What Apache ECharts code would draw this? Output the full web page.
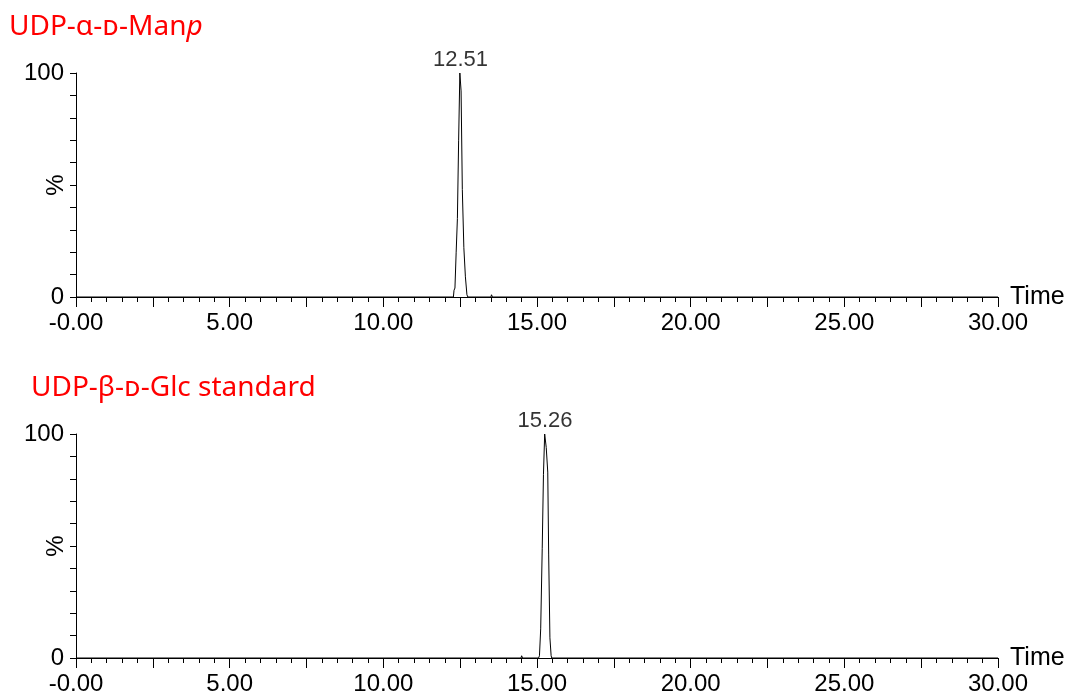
<!DOCTYPE html>
<html>
<head>
<meta charset="utf-8">
<script src="https://cdn.jsdelivr.net/npm/echarts@6/dist/echarts.min.js"></script>
<style>
  html, body { margin: 0; padding: 0; background: #fff; }
  #chart { width: 1071px; height: 698px; }
</style>
</head>
<body>
<div id="chart"></div>
<script>
// UDP-a-D-Manp trace (time in min, % intensity)
const manpTime = [0, 12.28, 12.30, 12.31, 12.33, 12.37, 12.41, 12.45, 12.49, 12.51, 12.53, 12.57, 12.62, 12.67, 12.72, 12.75, 13.50, 13.52, 13.55, 30];
const manpPct  = [0, 0,     3,     3,     4,     20,    35,    70,    100,   100,   92,    48,    22,    9,     1,     0,     0,     1,     0,     0];
// UDP-b-D-Glc standard trace
const glcTime = [0, 14.48, 14.50, 14.53, 15.05, 15.08, 15.12, 15.17, 15.21, 15.25, 15.27, 15.30, 15.35, 15.38, 15.42, 15.46, 15.48, 30];
const glcPct  = [0, 0,     1,     0,     0,     1,     13,    49,    82,    100,   100,   94,    83,    46,    9,     1,     0,     0];

const peakTimes = [12.51, 15.26];
const xLabels = ['-0.00', '5.00', '10.00', '15.00', '20.00', '25.00', '30.00'];
const yLabels = ['0', '100'];

let myChart = echarts.init(document.getElementById('chart'))

const axisFont = 'Liberation Sans, Arial, sans-serif'
const titleFont = 'Noto Sans, Open Sans, DejaVu Sans, sans-serif'

function xAxisFor (idx) {
  return {
    gridIndex: idx,
    type: 'value',
    min: 0,
    max: 30,
    interval: 2.5,
    name: 'Time',
    nameLocation: 'end',
    nameGap: 12,
    nameTextStyle: { color: '#000', fontSize: 25, fontFamily: axisFont, padding: [4, 0, 0, 0] },
    axisLine: { lineStyle: { color: '#000', width: 1 } },
    axisTick: { length: 10, lineStyle: { color: '#000' } },
    minorTick: { show: true, splitNumber: 5, length: 5, lineStyle: { color: '#000' } },
    splitLine: { show: false },
    axisLabel: {
      color: '#000', fontSize: 24, fontFamily: axisFont, margin: 14,
      showMinLabel: true, showMaxLabel: true,
      formatter: function (v) {
        let k = Math.round(v / 5)
        return Math.abs(v - k * 5) < 1e-6 ? xLabels[k] : ''
      }
    }
  }
}

function yAxisFor (idx) {
  return {
    gridIndex: idx,
    type: 'value',
    min: 0,
    max: 100,
    interval: 10,
    name: '%',
    nameLocation: 'middle',
    nameGap: 8,
    nameRotate: 90,
    nameMoveOverlap: false,
    nameTextStyle: { color: '#000', fontSize: 24, fontFamily: axisFont },
    axisLine: { show: true, lineStyle: { color: '#000', width: 1 } },
    axisTick: { show: true, length: 6, lineStyle: { color: '#000' } },
    splitLine: { show: false },
    axisLabel: {
      color: '#000', fontSize: 24, fontFamily: axisFont, margin: 12,
      formatter: function (v) {
        if (v === 0) return yLabels[0]
        if (v === 100) return yLabels[1]
        return ''
      }
    }
  }
}

function zip (a, b) {
  return a.map((t, i) => [t, b[i]])
}

const traces = [zip(manpTime, manpPct), zip(glcTime, glcPct)]

let series = []
traces.forEach((d, i) => {
  series.push({
    type: 'line',
    xAxisIndex: i,
    yAxisIndex: i,
    data: d,
    showSymbol: false,
    symbol: 'none',
    lineStyle: { color: '#000', width: 1 },
    animation: false
  })
  series.push({
    type: 'scatter',
    xAxisIndex: i,
    yAxisIndex: i,
    symbolSize: 0,
    data: [[peakTimes[i], 100]],
    label: {
      show: true,
      position: 'top',
      distance: 2,
      color: '#000',
      fontSize: 22,
      fontFamily: axisFont,
      formatter: p => p.value[0].toFixed(2)
    },
    animation: false
  })
})

const richTitle = {
  a: { color: '#ff0000', fontSize: 28, fontWeight: 'normal', fontFamily: titleFont },
  i: { color: '#ff0000', fontSize: 28, fontWeight: 'normal', fontFamily: titleFont, fontStyle: 'italic' }
}

let option = {
  backgroundColor: '#fff',
  animation: false,
  title: [
    {
      text: '{a|UDP-α-ᴅ-Man}{i|p}',
      left: 9, top: 13,
      padding: 0,
      textStyle: { fontWeight: 'normal', rich: richTitle }
    },
    {
      text: '{a|UDP-β-ᴅ-Glc standard}',
      left: 31, top: 374,
      padding: 0,
      textStyle: { fontWeight: 'normal', rich: richTitle }
    }
  ],
  grid: [
    { left: 76, right: 73, top: 73, height: 224, outerBoundsMode: 'none', containLabel: false },
    { left: 76, right: 73, top: 434, height: 224, outerBoundsMode: 'none', containLabel: false }
  ],
  xAxis: [xAxisFor(0), xAxisFor(1)],
  yAxis: [yAxisFor(0), yAxisFor(1)],
  series: series
}
myChart.setOption(option)
</script>
</body>
</html>
